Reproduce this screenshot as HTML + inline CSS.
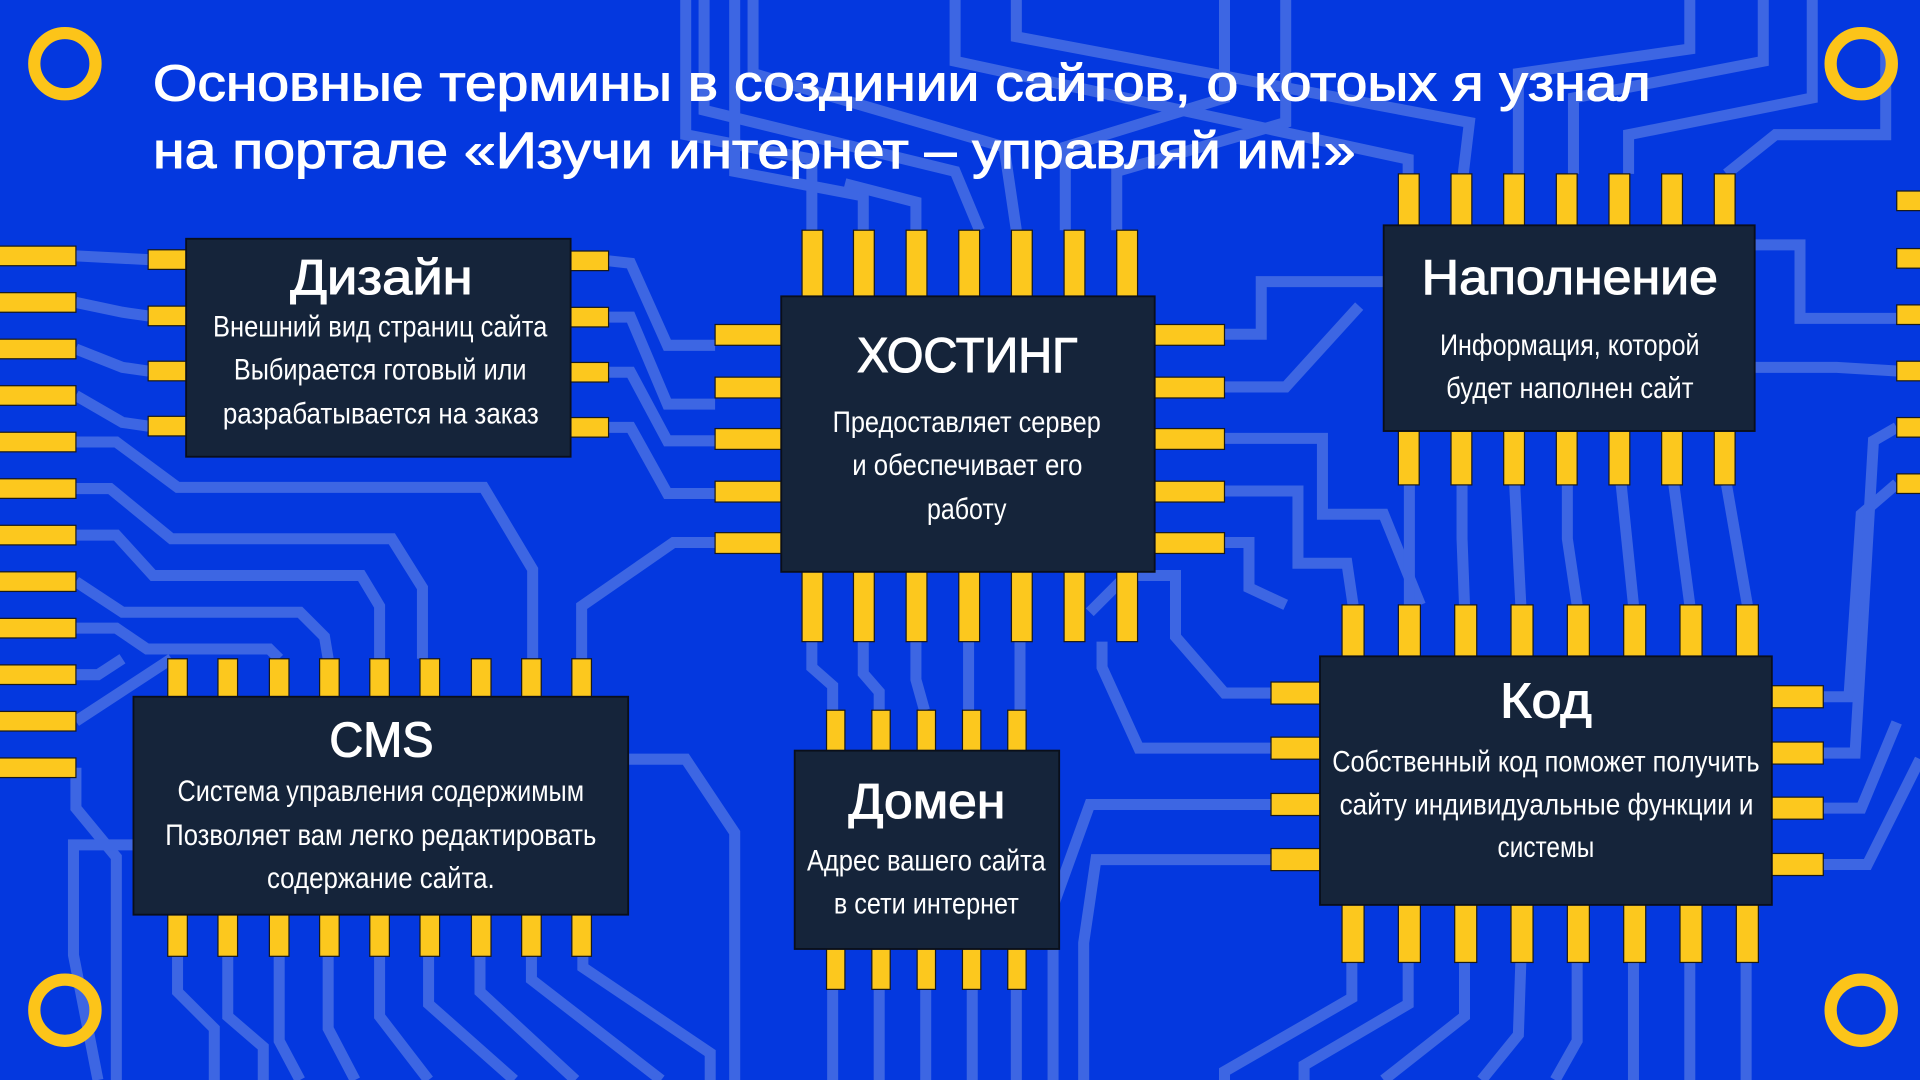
<!DOCTYPE html>
<html><head><meta charset="utf-8"><style>
html,body{margin:0;padding:0;width:1920px;height:1080px;overflow:hidden;background:#0438df}
svg{display:block}
text{font-family:"Liberation Sans","DejaVu Sans",sans-serif;fill:#fff}
</style></head><body>
<svg width="1920" height="1080" viewBox="0 0 1568 882" xmlns="http://www.w3.org/2000/svg">
<rect width="1568" height="882" fill="#0438df"/>
<g fill="none" stroke="#3d66e3" stroke-width="9" stroke-linejoin="miter">
<polyline points="62,209 121,212"/>
<polyline points="62,247 100,255 121,258"/>
<polyline points="62,285 100,300 121,303"/>
<polyline points="62,323 100,345 121,348"/>
<polyline points="62,361 95,361 145,398 395,398 435,465 435,540"/>
<polyline points="62,399 90,399 140,440 320,440 345,480 345,538"/>
<polyline points="62,437 95,437 125,470 295,470 310,495 310,538"/>
<polyline points="62,475 100,500 245,500 265,520 268,538"/>
<polyline points="62,513 95,513 120,530 220,530 228,538"/>
<polyline points="62,551 80,551 100,538"/>
<polyline points="62,589 140,538"/>
<polyline points="62,627 62,660 95,700 95,882"/>
<polyline points="497,213 515,215 545,282 584,282"/>
<polyline points="497,259 515,259 545,330 584,330"/>
<polyline points="497,304 515,304 545,360 584,360"/>
<polyline points="497,349 515,349 545,403 584,403"/>
<polyline points="584,443 550,443 475,495 475,538"/>
<polyline points="575,0 575,90 780,140 800,188"/>
<polyline points="615,0 615,60 820,120 830,188"/>
<polyline points="663,188 663,130 560,110 560,0"/>
<polyline points="705,188 705,160 600,140 600,0"/>
<polyline points="748,188 748,165 690,150"/>
<polyline points="870,188 870,120 1000,80 1000,0"/>
<polyline points="912,188 912,140 1050,100 1050,0"/>
<polyline points="780,0 780,50 1150,130 1150,142"/>
<polyline points="830,0 830,30 1200,100 1195,142"/>
<polyline points="1240,142 1240,60 1380,40 1380,0"/>
<polyline points="1285,142 1285,80 1440,50 1440,0"/>
<polyline points="1330,142 1330,110 1480,80 1480,0"/>
<polyline points="1410,142 1450,110 1540,110 1540,40"/>
<polyline points="1000,273 1030,273 1030,230 1130,230"/>
<polyline points="1000,316 1050,316 1110,250"/>
<polyline points="1000,358 1080,358 1080,420 1130,420 1160,494"/>
<polyline points="1000,401 1060,401 1060,460 1100,460 1105,494"/>
<polyline points="1000,443 1020,443 1020,480 1050,494"/>
<polyline points="1151,396 1151,494"/>
<polyline points="1194,396 1194,440 1196,494"/>
<polyline points="1237,396 1242,494"/>
<polyline points="1280,396 1280,440 1288,494"/>
<polyline points="1324,396 1334,494"/>
<polyline points="1367,396 1380,494"/>
<polyline points="1410,396 1427,494"/>
<polyline points="1489,569 1510,569 1520,420 1549,395"/>
<polyline points="1489,615 1515,615 1530,360 1549,349"/>
<polyline points="1489,660 1520,660 1549,590"/>
<polyline points="1489,706 1525,706 1568,620"/>
<polyline points="1433,200 1470,200 1470,260 1549,260"/>
<polyline points="1433,300 1500,300 1549,303"/>
<polyline points="1038,566 1000,566 960,520 960,470 920,470 890,500"/>
<polyline points="1038,611 930,611 900,545 900,524"/>
<polyline points="1038,657 890,657 860,740 860,882"/>
<polyline points="1038,702 895,702 885,770 885,882"/>
<polyline points="663,524 663,545 680,560 680,580"/>
<polyline points="705,524 705,550 718,565 718,580"/>
<polyline points="748,524 748,555 755,580"/>
<polyline points="791,524 791,580"/>
<polyline points="833,524 833,580"/>
<polyline points="680,808 680,882"/>
<polyline points="718,808 718,882"/>
<polyline points="756,808 756,882"/>
<polyline points="794,808 794,882"/>
<polyline points="830,808 830,882"/>
<polyline points="1104,786 1104,815 1000,875 1000,882"/>
<polyline points="1150,786 1150,820 1065,870 1065,882"/>
<polyline points="1196,786 1196,830 1130,882"/>
<polyline points="1242,786 1240,845 1210,882"/>
<polyline points="1288,786 1288,850 1270,882"/>
<polyline points="1334,786 1334,882"/>
<polyline points="1380,786 1380,882"/>
<polyline points="1426,786 1426,882"/>
<polyline points="145,781 145,810 175,840 175,882"/>
<polyline points="186,781 186,830 215,855 215,882"/>
<polyline points="228,781 228,850 245,882"/>
<polyline points="268,781 268,840 290,882"/>
<polyline points="310,781 310,830 350,882"/>
<polyline points="350,781 350,820 420,882"/>
<polyline points="392,781 392,810 470,882"/>
<polyline points="434,781 434,800 540,882"/>
<polyline points="476,781 476,790 580,860 580,882"/>
<polyline points="109,690 60,690 60,780 80,882"/>
<polyline points="513,620 560,620 600,680 600,882"/>
</g>
<g fill="none" stroke="#fcc419" stroke-width="10">
<circle cx="53" cy="52" r="25"/><circle cx="1520" cy="52" r="25"/>
<circle cx="53" cy="825" r="25"/><circle cx="1520" cy="825" r="25"/>
</g>
<g fill="#fcc81e" stroke="#1a1a1a" stroke-width="1">
<rect x="-2" y="201" width="64" height="16"/><rect x="-2" y="239" width="64" height="16"/><rect x="-2" y="277" width="64" height="16"/><rect x="-2" y="315" width="64" height="16"/><rect x="-2" y="353" width="64" height="16"/><rect x="-2" y="391" width="64" height="16"/><rect x="-2" y="429" width="64" height="16"/><rect x="-2" y="467" width="64" height="16"/><rect x="-2" y="505" width="64" height="16"/><rect x="-2" y="543" width="64" height="16"/><rect x="-2" y="581" width="64" height="16"/><rect x="-2" y="619" width="64" height="16"/>
<rect x="1549" y="156" width="22" height="16"/><rect x="1549" y="203" width="22" height="16"/><rect x="1549" y="249" width="22" height="16"/><rect x="1549" y="295" width="22" height="16"/><rect x="1549" y="341" width="22" height="16"/><rect x="1549" y="387" width="22" height="16"/>
<rect x="121" y="204" width="31" height="16"/><rect x="121" y="250" width="31" height="16"/><rect x="121" y="295" width="31" height="16"/><rect x="121" y="340" width="31" height="16"/>
<rect x="466" y="205" width="31" height="16"/><rect x="466" y="251" width="31" height="16"/><rect x="466" y="296" width="31" height="16"/><rect x="466" y="341" width="31" height="16"/>
<rect x="655" y="188" width="17" height="54"/><rect x="697" y="188" width="17" height="54"/><rect x="740" y="188" width="17" height="54"/><rect x="783" y="188" width="17" height="54"/><rect x="826" y="188" width="17" height="54"/><rect x="869" y="188" width="17" height="54"/><rect x="912" y="188" width="17" height="54"/>
<rect x="655" y="467" width="17" height="57"/><rect x="697" y="467" width="17" height="57"/><rect x="740" y="467" width="17" height="57"/><rect x="783" y="467" width="17" height="57"/><rect x="826" y="467" width="17" height="57"/><rect x="869" y="467" width="17" height="57"/><rect x="912" y="467" width="17" height="57"/>
<rect x="584" y="265" width="54" height="17"/><rect x="584" y="308" width="54" height="17"/><rect x="584" y="350" width="54" height="17"/><rect x="584" y="393" width="54" height="17"/><rect x="584" y="435" width="54" height="17"/>
<rect x="943" y="265" width="57" height="17"/><rect x="943" y="308" width="57" height="17"/><rect x="943" y="350" width="57" height="17"/><rect x="943" y="393" width="57" height="17"/><rect x="943" y="435" width="57" height="17"/>
<rect x="1142" y="142" width="17" height="42"/><rect x="1185" y="142" width="17" height="42"/><rect x="1228" y="142" width="17" height="42"/><rect x="1271" y="142" width="17" height="42"/><rect x="1314" y="142" width="17" height="42"/><rect x="1357" y="142" width="17" height="42"/><rect x="1400" y="142" width="17" height="42"/>
<rect x="1142" y="352" width="17" height="44"/><rect x="1185" y="352" width="17" height="44"/><rect x="1228" y="352" width="17" height="44"/><rect x="1271" y="352" width="17" height="44"/><rect x="1314" y="352" width="17" height="44"/><rect x="1357" y="352" width="17" height="44"/><rect x="1400" y="352" width="17" height="44"/>
<rect x="137" y="538" width="16" height="31"/><rect x="178" y="538" width="16" height="31"/><rect x="220" y="538" width="16" height="31"/><rect x="261" y="538" width="16" height="31"/><rect x="302" y="538" width="16" height="31"/><rect x="343" y="538" width="16" height="31"/><rect x="385" y="538" width="16" height="31"/><rect x="426" y="538" width="16" height="31"/><rect x="467" y="538" width="16" height="31"/>
<rect x="137" y="747" width="16" height="34"/><rect x="178" y="747" width="16" height="34"/><rect x="220" y="747" width="16" height="34"/><rect x="261" y="747" width="16" height="34"/><rect x="302" y="747" width="16" height="34"/><rect x="343" y="747" width="16" height="34"/><rect x="385" y="747" width="16" height="34"/><rect x="426" y="747" width="16" height="34"/><rect x="467" y="747" width="16" height="34"/>
<rect x="675" y="580" width="15" height="33"/><rect x="712" y="580" width="15" height="33"/><rect x="749" y="580" width="15" height="33"/><rect x="786" y="580" width="15" height="33"/><rect x="823" y="580" width="15" height="33"/>
<rect x="675" y="775" width="15" height="33"/><rect x="712" y="775" width="15" height="33"/><rect x="749" y="775" width="15" height="33"/><rect x="786" y="775" width="15" height="33"/><rect x="823" y="775" width="15" height="33"/>
<rect x="1096" y="494" width="18" height="42"/><rect x="1142" y="494" width="18" height="42"/><rect x="1188" y="494" width="18" height="42"/><rect x="1234" y="494" width="18" height="42"/><rect x="1280" y="494" width="18" height="42"/><rect x="1326" y="494" width="18" height="42"/><rect x="1372" y="494" width="18" height="42"/><rect x="1418" y="494" width="18" height="42"/>
<rect x="1096" y="739" width="18" height="47"/><rect x="1142" y="739" width="18" height="47"/><rect x="1188" y="739" width="18" height="47"/><rect x="1234" y="739" width="18" height="47"/><rect x="1280" y="739" width="18" height="47"/><rect x="1326" y="739" width="18" height="47"/><rect x="1372" y="739" width="18" height="47"/><rect x="1418" y="739" width="18" height="47"/>
<rect x="1038" y="557" width="40" height="18"/><rect x="1038" y="602" width="40" height="18"/><rect x="1038" y="648" width="40" height="18"/><rect x="1038" y="693" width="40" height="18"/>
<rect x="1447" y="560" width="42" height="18"/><rect x="1447" y="606" width="42" height="18"/><rect x="1447" y="651" width="42" height="18"/><rect x="1447" y="697" width="42" height="18"/>
</g>
<g fill="#15243a" stroke="#0a0f1a" stroke-width="1.5">
<rect x="152" y="195" width="314" height="178"/>
<rect x="638" y="242" width="305" height="225"/>
<rect x="1130" y="184" width="303" height="168"/>
<rect x="109" y="569" width="404" height="178"/>
<rect x="649" y="613" width="216" height="162"/>
<rect x="1078" y="536" width="369" height="203"/>
</g>
<g stroke="#fff" stroke-width="0.9">
<text x="125" y="82" font-size="42" textLength="1223" lengthAdjust="spacingAndGlyphs">Основные термины в создинии сайтов, о котоых я узнал</text>
<text x="125" y="137" font-size="42" textLength="982" lengthAdjust="spacingAndGlyphs">на портале «Изучи интернет – управляй им!»</text>
</g>
<g font-size="40" stroke="#fff" stroke-width="0.9">
<text x="237" y="240" textLength="149" lengthAdjust="spacingAndGlyphs">Дизайн</text>
<text x="700" y="304" textLength="180" lengthAdjust="spacingAndGlyphs">ХОСТИНГ</text>
<text x="1161" y="240" textLength="242" lengthAdjust="spacingAndGlyphs">Наполнение</text>
<text x="269" y="618" textLength="85" lengthAdjust="spacingAndGlyphs">CMS</text>
<text x="693" y="668" textLength="128" lengthAdjust="spacingAndGlyphs">Домен</text>
<text x="1225" y="586" textLength="75" lengthAdjust="spacingAndGlyphs">Код</text>
</g>
<g font-size="24">
<text x="174" y="275" textLength="273" lengthAdjust="spacingAndGlyphs">Внешний вид страниц сайта</text>
<text x="191" y="310" textLength="239" lengthAdjust="spacingAndGlyphs">Выбирается готовый или</text>
<text x="182" y="346" textLength="258" lengthAdjust="spacingAndGlyphs">разрабатывается на заказ</text>
<text x="680" y="353" textLength="219" lengthAdjust="spacingAndGlyphs">Предоставляет сервер</text>
<text x="696" y="388" textLength="188" lengthAdjust="spacingAndGlyphs">и обеспечивает его</text>
<text x="757" y="424" textLength="65" lengthAdjust="spacingAndGlyphs">работу</text>
<text x="1176" y="290" textLength="212" lengthAdjust="spacingAndGlyphs">Информация, которой</text>
<text x="1181" y="325" textLength="202" lengthAdjust="spacingAndGlyphs">будет наполнен сайт</text>
<text x="145" y="654" textLength="332" lengthAdjust="spacingAndGlyphs">Система управления содержимым</text>
<text x="135" y="690" textLength="352" lengthAdjust="spacingAndGlyphs">Позволяет вам легко редактировать</text>
<text x="218" y="725" textLength="186" lengthAdjust="spacingAndGlyphs">содержание сайта.</text>
<text x="659" y="711" textLength="195" lengthAdjust="spacingAndGlyphs">Адрес вашего сайта</text>
<text x="681" y="746" textLength="151" lengthAdjust="spacingAndGlyphs">в сети интернет</text>
<text x="1088" y="630" textLength="349" lengthAdjust="spacingAndGlyphs">Собственный код поможет получить</text>
<text x="1094" y="665" textLength="338" lengthAdjust="spacingAndGlyphs">сайту индивидуальные функции и</text>
<text x="1223" y="700" textLength="79" lengthAdjust="spacingAndGlyphs">системы</text>
</g>
</svg>
</body></html>
